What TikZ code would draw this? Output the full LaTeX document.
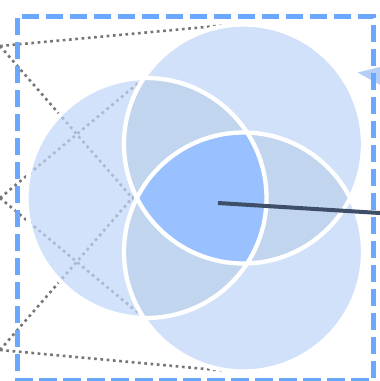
\documentclass[tikz,border=0pt]{standalone}
\definecolor{lightfill}{RGB}{209,225,249}
\definecolor{lfill}{RGB}{191,214,248}
\definecolor{midfill}{RGB}{193,214,238}
\definecolor{darkfill}{RGB}{153,192,255}
\definecolor{frameblue}{RGB}{106,168,255}
\definecolor{dotgray}{RGB}{118,118,118}
\definecolor{pointer}{RGB}{62,78,104}
\definecolor{tri}{RGB}{180,206,247}
\begin{document}
\begin{tikzpicture}[x=1pt,y=-1pt,
  dotline/.style={dotgray, line width=2.6pt, dash pattern=on 2.7pt off 3.6pt},
  ring/.style={white, line width=4.3pt},
  frame/.style={frameblue, line width=5pt, dash pattern=on 17.5pt off 6.5pt, dash phase=20pt},
  pointerline/.style={pointer, line width=4pt}]
\useasboundingbox (0,0) rectangle (380,381);
\clip (0,0) rectangle (380,381);
% centres
\coordinate (cL) at (146.5,198);
\coordinate (cT) at (243.5,144);
\coordinate (cB) at (243.5,252);
% projection points and ends
\coordinate (p1) at (0,46);
\coordinate (p2) at (0,198);
\coordinate (p3) at (0,350);
\coordinate (a1) at (222,25.5);
\coordinate (a2) at (137,203.5);
\coordinate (b1) at (142,80);
\coordinate (b2) at (142,316);
\coordinate (c1) at (222,370.5);
\coordinate (c2) at (137,192.5);
% dotted projection lines
\draw[dotline] (p1) -- (a1);
\draw[dotline] (p1) -- (a2);
\draw[dotline] (p2) -- (b1);
\draw[dotline] (p2) -- (b2);
\draw[dotline] (p3) -- (c1);
\draw[dotline] (p3) -- (c2);
% circles
\fill[lfill, fill opacity=0.7] (cL) circle[radius=120pt];
\fill[lightfill] (cT) circle[radius=119.5pt];
\fill[lightfill] (cB) circle[radius=119.5pt];
% pairwise overlaps
\begin{scope}
  \clip (cL) circle[radius=120pt];
  \fill[midfill] (cT) circle[radius=119.5pt];
  \fill[midfill] (cB) circle[radius=119.5pt];
\end{scope}
\begin{scope}
  \clip (cT) circle[radius=119.5pt];
  \fill[midfill] (cB) circle[radius=119.5pt];
\end{scope}
% triple overlap
\begin{scope}
  \clip (cL) circle[radius=120pt];
  \clip (cT) circle[radius=119.5pt];
  \fill[darkfill] (cB) circle[radius=119.5pt];
\end{scope}
% white outlines
\draw[ring] (cL) circle[radius=120pt];
\draw[ring] (cT) circle[radius=119.5pt];
\draw[ring] (cB) circle[radius=119.5pt];
% small triangle at the right
\fill[tri] (357.5,72.5) -- (384,66) -- (384,87) -- cycle;
% dashed frame
\draw[frame] (17.5,16) -- (373,16) -- (373,380) -- (17.5,380) -- cycle;
% pointer line
\coordinate (ps) at (218,203);
\coordinate (pe) at (386,213.4);
\draw[pointerline] (ps) -- (pe);
\end{tikzpicture}
\end{document}
